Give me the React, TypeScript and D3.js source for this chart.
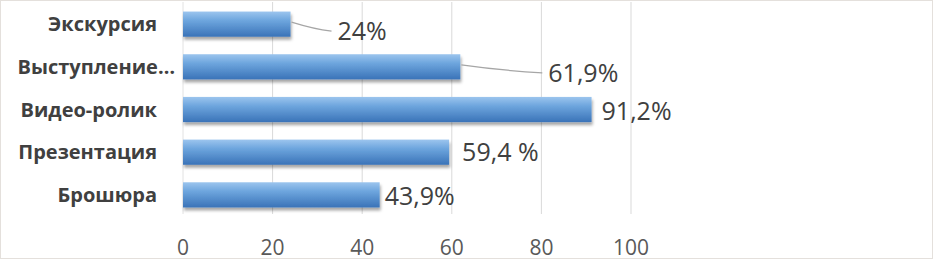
import * as d3 from 'd3';

const categories = ['Экскурсия', 'Выступление…', 'Видео-ролик', 'Презентация', 'Брошюра'];
const values = [24, 61.9, 91.2, 59.4, 43.9];
const valueLabels = ['24%', '61,9%', '91,2%', '59,4 %', '43,9%'];
const xTicks = [0, 20, 40, 60, 80, 100];

// label placement relative to bar end (Excel moved some labels by hand)
const LABEL_DX = [47, 88, 10, 13, 5];
const LABEL_DY = [7, 6, 1, 0, 1];
const LEADER = [true, true, false, false, false];
// the truncated label overflows its slot a little, as Excel draws it
const CAT_DX = [0, 18, 0, 0, 0];

const W = 934;
const H = 260;
const M = { left: 183, right: 303, top: 3, bottom: 44 };

export default function App() {
  const x = d3.scaleLinear().domain([0, 100]).range([M.left, W - M.right]);
  const y = d3.scaleBand<string>()
    .domain(categories)
    .range([M.top, H - M.bottom])
    .paddingInner(0.41)
    .paddingOuter(0.2);
  const bh = y.bandwidth();

  return (
    <svg
      width={W}
      height={H}
      style={{ position: 'absolute', left: 0, top: 0, background: '#fff' }}
      fontFamily="'Open Sans', 'Noto Sans', sans-serif"
    >
      <defs>
        <linearGradient id="bar-grad" x1="0" x2="0" y1="0" y2="1">
          <stop offset="0%" stopColor="#9cc5ee" />
          <stop offset="35%" stopColor="#6ea6de" />
          <stop offset="100%" stopColor="#3a73b8" />
        </linearGradient>
        <filter id="shadow" x="-5%" y="-20%" width="115%" height="160%">
          <feDropShadow dx="1" dy="3" stdDeviation="1.6" floodColor="#000" floodOpacity="0.35" />
        </filter>
      </defs>
      <rect x={0.5} y={0.5} width={W - 2} height={H - 2} fill="#fff" stroke="#e4e0dc" />
      {xTicks.map(t => (
        <line
          key={t}
          x1={x(t)} x2={x(t)}
          y1={2} y2={H - M.bottom - 2}
          stroke={t === 0 ? '#e2e2e2' : '#d9d9d9'}
          strokeWidth={1}
        />
      ))}
      {categories.map((c, i) => {
        const yy = y(c)!;
        const x1 = x(values[i]);
        const lx = x1 + LABEL_DX[i];
        const ly = yy + bh / 2 + LABEL_DY[i];
        return (
          <g key={c}>
            <rect x={x(0)} y={yy} width={x1 - x(0)} height={bh} fill="url(#bar-grad)" filter="url(#shadow)" />
            {LEADER[i] && (
              <path
                d={`M${x1 + 1},${yy + bh / 2 - 2} Q${(x1 + lx) / 2},${ly - 2} ${lx - 6},${ly}`}
                fill="none"
                stroke="#a6a6a6"
                strokeWidth={1.2}
              />
            )}
            <text x={lx} y={ly} dy="0.36em" fontSize={25} fill="#404040">
              {valueLabels[i]}
            </text>
            <text
              x={157 + CAT_DX[i]}
              y={yy + bh / 2}
              dy="0.36em"
              textAnchor="end"
              fontSize={20}
              fontWeight={700}
              fill="#404040"
            >
              {c}
            </text>
          </g>
        );
      })}
      {xTicks.map(t => (
        <text key={t} x={x(t)} y={247} dy="0.36em" textAnchor="middle" fontSize={21} fill="#595959">
          {t}
        </text>
      ))}
    </svg>
  );
}
